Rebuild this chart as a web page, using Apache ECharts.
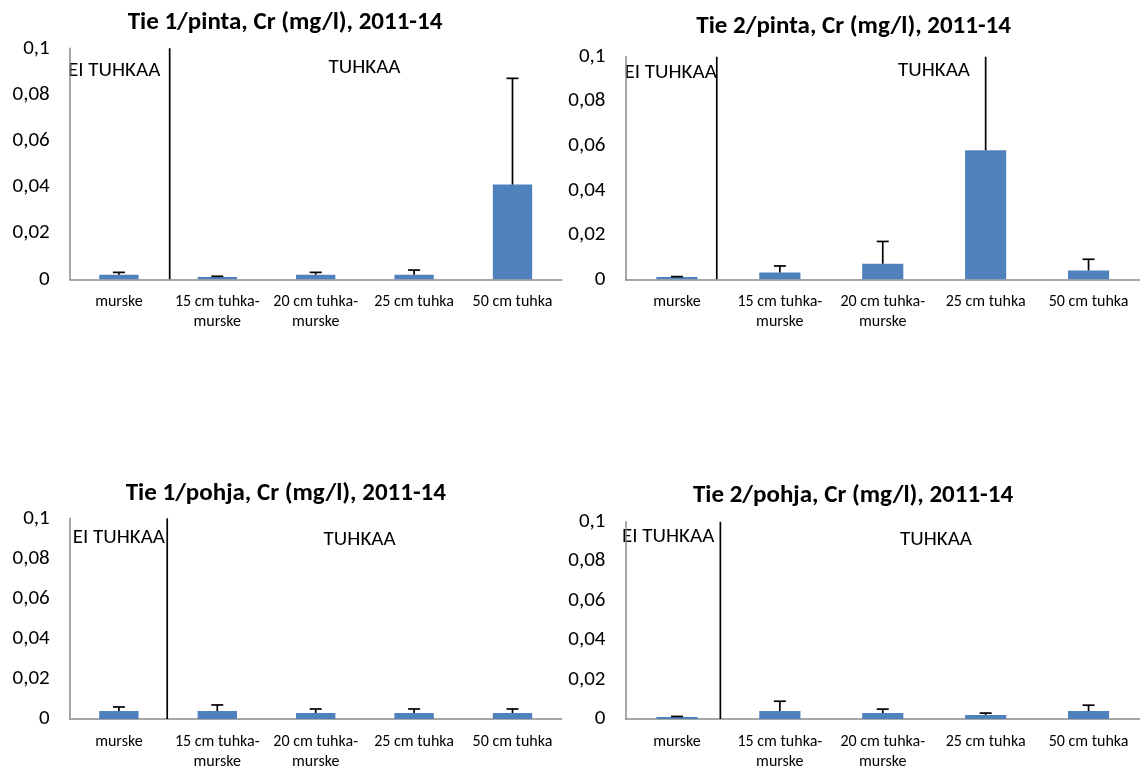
<!DOCTYPE html>
<html>
<head>
<meta charset="utf-8">
<script src="https://cdn.jsdelivr.net/npm/echarts@6/dist/echarts.min.js"></script>
<style>
html,body{margin:0;padding:0;background:#fff;}
#c{width:1140px;height:772px;}
</style>
</head>
<body>
<div id="c"></div>
<script>
const categories = ['murske', '15 cm tuhka-\nmurske', '20 cm tuhka-\nmurske', '25 cm tuhka', '50 cm tuhka'];
const yTickLabels = ['0', '0,02', '0,04', '0,06', '0,08', '0,1'];
const titles = ['Tie 1/pinta, Cr (mg/l), 2011-14', 'Tie 2/pinta, Cr (mg/l), 2011-14', 'Tie 1/pohja, Cr (mg/l), 2011-14', 'Tie 2/pohja, Cr (mg/l), 2011-14'];

const tie1PintaValues = [0.002, 0.001, 0.002, 0.002, 0.041];
const tie1PintaErr    = [0.001, 0.0003, 0.001, 0.002, 0.046];
const tie2PintaValues = [0.001, 0.003, 0.007, 0.058, 0.004];
const tie2PintaErr    = [0.0002, 0.003, 0.010, 0.060, 0.005];
const tie1PohjaValues = [0.004, 0.004, 0.003, 0.003, 0.003];
const tie1PohjaErr    = [0.002, 0.003, 0.002, 0.002, 0.002];
const tie2PohjaValues = [0.001, 0.004, 0.003, 0.002, 0.004];
const tie2PohjaErr    = [0.0003, 0.005, 0.002, 0.001, 0.003];

// divider between "EI TUHKAA" and "TUHKAA", in category units
const dividerAt = [0.516, 0.387, 0.491, 0.422];

const valuesList = [tie1PintaValues, tie2PintaValues, tie1PohjaValues, tie2PohjaValues];
const errList = [tie1PintaErr, tie2PintaErr, tie1PohjaErr, tie2PohjaErr];

const FONT = 'Carlito, Lato, sans-serif';
const grids = [
  {left: 69.7, top: 48.3, width: 492, height: 231},
  {left: 625.5, top: 56.7, width: 517.5, height: 222.6},
  {left: 69.7, top: 518.3, width: 492, height: 205.7},
  {left: 625.5, top: 521.7, width: 517.5, height: 201}
];
const titlePos = [[285, 22.5], [853.6, 26.7], [285.8, 493.3], [853, 496]];
const eiPos = [[68, 71], [624.5, 72.7], [72.7, 537.3], [622, 536.7]];
const tuhPos = [[364.5, 68], [934, 70.7], [359.6, 539.3], [936, 539.3]];

const xAxes = [], yAxes = [], series = [], graphic = [];
grids.forEach((g, i) => {
  xAxes.push({
    type: 'category', gridIndex: i, data: categories,
    axisLine: {lineStyle: {color: '#8a8a8a', width: 1.5}},
    axisTick: {show: false},
    axisLabel: {color: '#000', fontFamily: FONT, fontSize: 16, margin: 13, lineHeight: 20, interval: 0}
  });
  xAxes.push({
    type: 'value', gridIndex: i, min: -0.5, max: 4.5, show: false
  });
  yAxes.push({
    type: 'value', gridIndex: i, min: 0, max: 0.1, interval: 0.02,
    splitLine: {show: false},
    axisLine: {show: true, onZero: false, lineStyle: {color: '#8a8a8a', width: 1.5}},
    axisTick: {show: false},
    axisLabel: {color: '#000', fontFamily: FONT, fontSize: 21, margin: 20,
      formatter: v => yTickLabels[Math.round(v / 0.02)]}
  });
  series.push({
    type: 'bar', xAxisIndex: 2 * i, yAxisIndex: i,
    data: valuesList[i], barWidth: '40%',
    itemStyle: {color: '#4F81BD'}, silent: true
  });
  series.push({
    type: 'custom', xAxisIndex: 2 * i, yAxisIndex: i, silent: true,
    data: valuesList[i].map((v, k) => [k, v, errList[i][k]]),
    renderItem: function (params, api) {
      const x = api.value(0), v = api.value(1), e = api.value(2);
      const p0 = api.coord([x, v]);
      const p1 = api.coord([x, v + e]);
      const topY = params.coordSys.y;
      const clipped = p1[1] < topY;
      const y1 = clipped ? topY : p1[1];
      const children = [{
        type: 'line', shape: {x1: p0[0], y1: p0[1], x2: p0[0], y2: y1},
        style: {stroke: '#000', lineWidth: 1.7}
      }];
      if (!clipped) {
        children.push({
          type: 'line', shape: {x1: p0[0] - 6, y1: y1, x2: p0[0] + 6, y2: y1},
          style: {stroke: '#000', lineWidth: 1.7}
        });
      }
      return {type: 'group', children: children};
    },
    z: 5
  });
  series.push({
    type: 'line', xAxisIndex: 2 * i + 1, yAxisIndex: i, silent: true,
    data: [[dividerAt[i], 0], [dividerAt[i], 0.1]],
    symbol: 'none', lineStyle: {color: '#000', width: 1.7}, z: 6
  });
  graphic.push({
    type: 'text', x: titlePos[i][0], y: titlePos[i][1],
    style: {text: titles[i], font: 'bold 25px ' + FONT, fill: '#000', textAlign: 'center', textVerticalAlign: 'middle'}
  });
  graphic.push({
    type: 'text', x: eiPos[i][0], y: eiPos[i][1],
    style: {text: 'EI TUHKAA', font: '21px ' + FONT, fill: '#000', textAlign: 'left', textVerticalAlign: 'middle'}
  });
  graphic.push({
    type: 'text', x: tuhPos[i][0], y: tuhPos[i][1],
    style: {text: 'TUHKAA', font: '21px ' + FONT, fill: '#000', textAlign: 'center', textVerticalAlign: 'middle'}
  });
});

const chart = echarts.init(document.getElementById('c'), null, {renderer: 'canvas'});
chart.setOption({
  animation: false,
  backgroundColor: '#fff',
  grid: grids,
  xAxis: xAxes,
  yAxis: yAxes,
  series: series,
  graphic: graphic
});
</script>
</body>
</html>
